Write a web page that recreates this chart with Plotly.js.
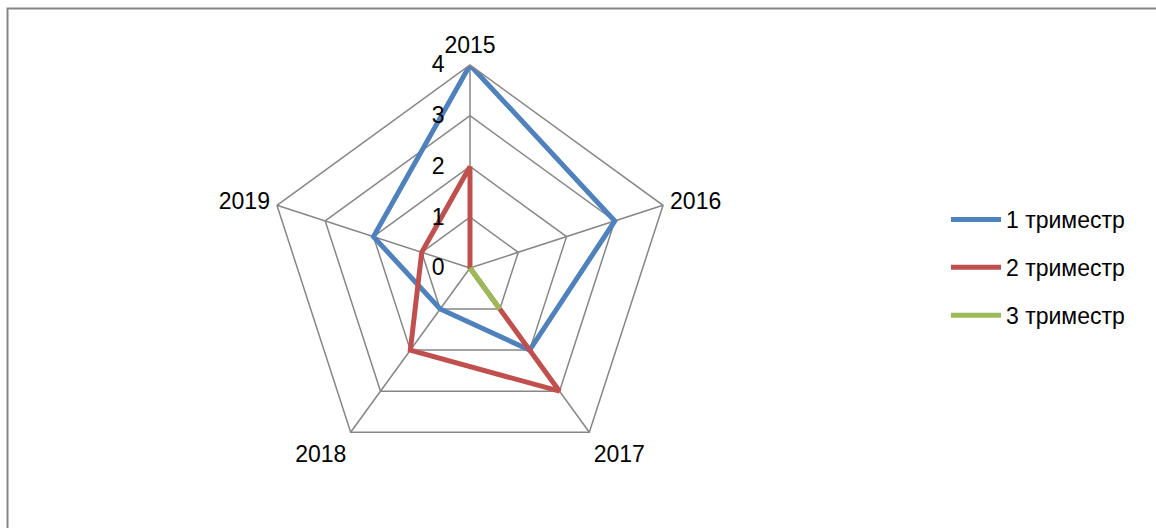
<!DOCTYPE html>
<html>
<head>
<meta charset="utf-8">
<script src="https://cdn.plot.ly/plotly-3.0.1.min.js"></script>
<style>html,body{margin:0;padding:0;background:#fff}#chart{width:1156px;height:528px}</style>
</head>
<body>
<div id="chart"></div>
<script>
const categories = ['2015', '2016', '2017', '2018', '2019'];
const seriesNames = ['1 триместр', '2 триместр', '3 триместр'];
const trimester1 = [4, 3, 2, 1, 2];
const trimester2 = [2, 0, 3, 2, 1];
const trimester3 = [0, 0, 1, 0, 0];
const radialTicks = [0, 1, 2, 3, 4];
const colors = ['#4F81BD', '#C0504D', '#9BBB59'];

const FONT = 'Liberation Sans, Arial, sans-serif';
const FS = 23;
const close = a => a.concat([a[0]]);
const allSeries = [trimester1, trimester2, trimester3];

const traces = allSeries.map((vals, i) => ({
  type: 'scatterpolar',
  mode: 'lines',
  r: close(vals),
  theta: close(categories),
  name: seriesNames[i],
  legendgroup: 'g' + i,
  line: {color: colors[i], width: 5},
  hoverinfo: 'skip'
}));

const W = 1156, H = 528;
const cx = 470, cy = 268, R = 203;

const layout = {
  width: W, height: H,
  margin: {l: 0, r: 0, t: 0, b: 0},
  paper_bgcolor: '#ffffff',
  font: {family: FONT, size: FS, color: '#000000'},
  showlegend: true,
  legend: {
    x: 946 / W, y: 1 - 198 / H, xanchor: 'left', yanchor: 'top',
    font: {family: FONT, size: FS, color: '#000000'},
    traceorder: 'grouped', tracegroupgap: 15,
    itemwidth: 50,
    bgcolor: 'rgba(0,0,0,0)'
  },
  polar: {
    domain: {x: [(cx - R) / W, (cx + R) / W], y: [(H - cy - R) / H, (H - cy + R) / H]},
    bgcolor: '#ffffff',
    gridshape: 'linear',
    angularaxis: {
      type: 'category',
      categoryarray: categories,
      rotation: 90,
      direction: 'clockwise',
      showline: true,
      linecolor: '#868686',
      linewidth: 1.5,
      gridcolor: '#868686',
      gridwidth: 1.5,
      ticks: 'outside',
      ticklen: 2,
      tickcolor: 'rgba(0,0,0,0)',
      tickfont: {family: FONT, size: FS, color: '#000000'}
    },
    radialaxis: {
      range: [0, 4],
      tickvals: radialTicks,
      ticktext: radialTicks.map(String),
      angle: 90,
      tickangle: 90,
      showline: false,
      gridcolor: '#868686',
      gridwidth: 1.5,
      ticks: 'outside',
      ticklen: 17,
      tickcolor: 'rgba(0,0,0,0)',
      side: 'counterclockwise',
      tickfont: {family: FONT, size: FS, color: '#000000'}
    }
  },
  shapes: [{
    type: 'rect', xref: 'paper', yref: 'paper',
    x0: 7.5 / W, x1: 1.05, y0: -0.05, y1: 1 - 8.5 / H,
    line: {color: '#868686', width: 2}, fillcolor: 'rgba(0,0,0,0)'
  }]
};

Plotly.newPlot('chart', traces, layout, {staticPlot: true, displayModeBar: false});
</script>
</body>
</html>
